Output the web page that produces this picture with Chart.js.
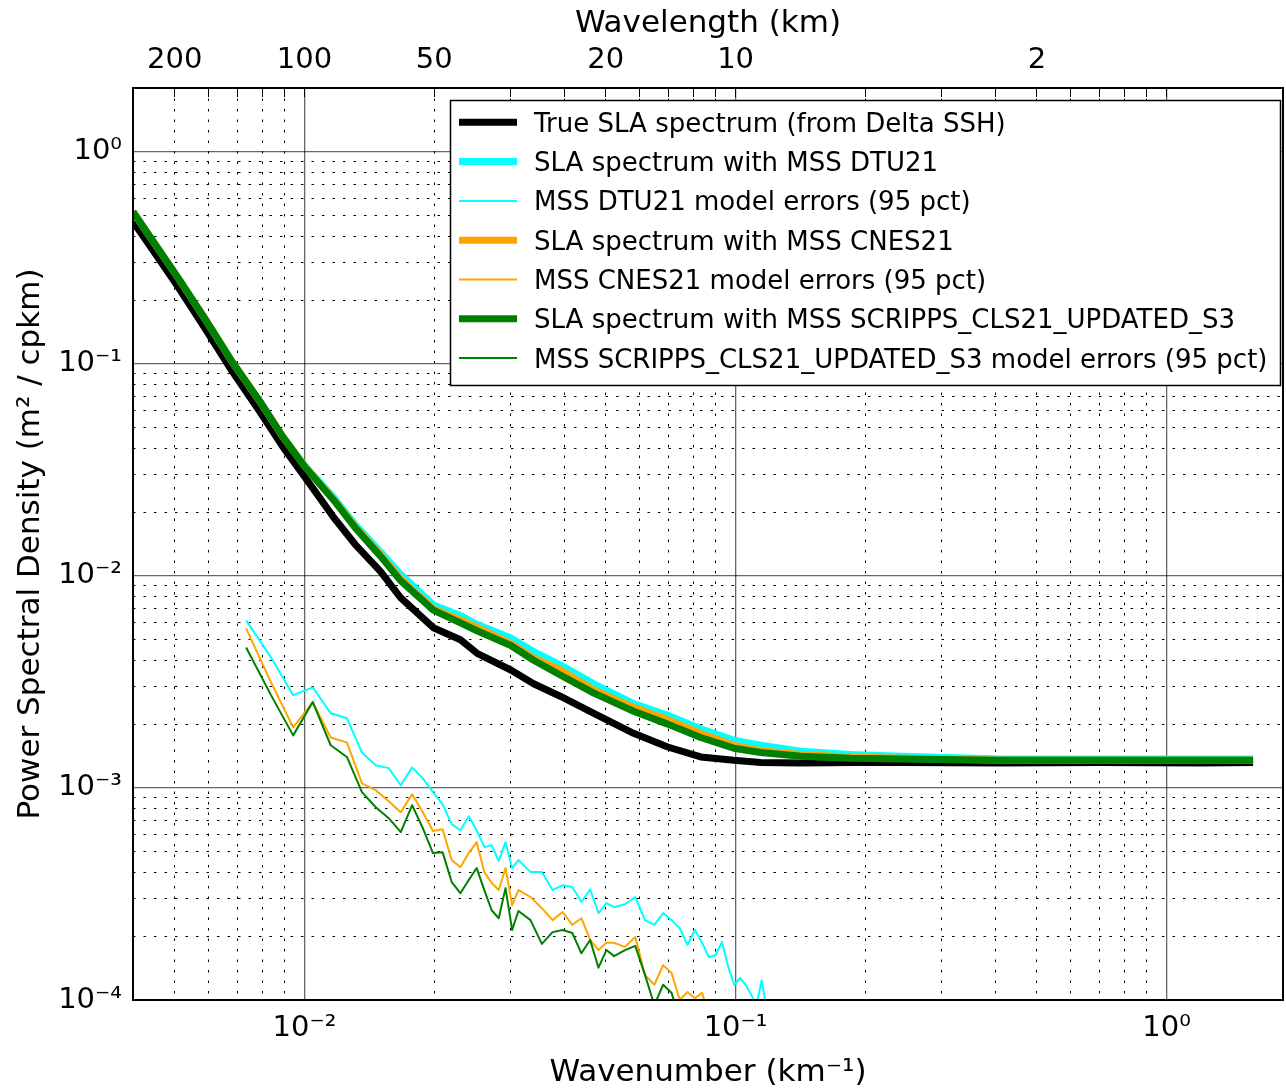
<!DOCTYPE html>
<html>
<head>
<meta charset="utf-8">
<script src="https://cdn.jsdelivr.net/npm/chart.js@4.4.1/dist/chart.umd.min.js"></script>
<style>
  html, body { margin: 0; padding: 0; background: #fff; }
  #wrap { width: 1286px; height: 1090px; }
</style>
</head>
<body>
<div id="wrap"><canvas id="psd" width="1286" height="1090"></canvas></div>
<script>
// ===============================
// DATA
// ===============================
// wavenumber (cpkm) of the SLA spectra
const wavenumber = [0.004, 0.0044, 0.0051, 0.0059, 0.0068, 0.0079, 0.0089, 0.01, 0.0117, 0.0131,
  0.015, 0.0167, 0.0199, 0.023, 0.0252, 0.0301, 0.034, 0.0393, 0.0469, 0.058,
  0.0696, 0.083, 0.099, 0.1144, 0.1417, 0.185, 0.2417, 0.4126, 0.7042, 1.2, 1.587];

const trueSLA = [0.468, 0.355, 0.229, 0.145, 0.092, 0.059, 0.0407, 0.0294, 0.0188, 0.0141,
  0.0105, 0.0079, 0.0057, 0.0050, 0.0043, 0.0036, 0.0031, 0.0027, 0.00225, 0.00181,
  0.00156, 0.00140, 0.00135, 0.00132, 0.00131, 0.00132, 0.00132, 0.00131, 0.00132, 0.00131, 0.00132];

const slaDTU21 = [0.522, 0.392, 0.253, 0.161, 0.102, 0.066, 0.0454, 0.0332, 0.0234, 0.0175,
  0.0130, 0.0102, 0.0073, 0.0065, 0.0059, 0.0051, 0.0044, 0.0038, 0.0031, 0.0025,
  0.0022, 0.0019, 0.00168, 0.00159, 0.00149, 0.00144, 0.00141, 0.00137, 0.00137, 0.00137, 0.00137];

const slaCNES21 = [0.522, 0.392, 0.253, 0.161, 0.102, 0.066, 0.0454, 0.0330, 0.0229, 0.0171,
  0.0126, 0.0097, 0.0070, 0.0062, 0.0057, 0.0048, 0.0041, 0.0036, 0.0029, 0.0024,
  0.0021, 0.00181, 0.00159, 0.00150, 0.00144, 0.00140, 0.00138, 0.00135, 0.00135, 0.00135, 0.00135];

const slaSCRIPPS = [0.522, 0.392, 0.253, 0.161, 0.102, 0.066, 0.0454, 0.0328, 0.0227, 0.0169,
  0.0124, 0.0095, 0.0069, 0.0060, 0.0055, 0.0047, 0.0040, 0.0034, 0.0028, 0.0023,
  0.0020, 0.00173, 0.00154, 0.00147, 0.00141, 0.00138, 0.00137, 0.00135, 0.00135, 0.00135, 0.00135];

// wavenumber (cpkm) of the model error curves
const errWavenumber = [0.00732, 0.00836, 0.00941, 0.01045, 0.0115, 0.01254, 0.01359, 0.01463, 0.01568, 0.01672,
  0.01777, 0.01881, 0.01986, 0.0209, 0.02195, 0.02299, 0.02404, 0.02508, 0.02613, 0.02717,
  0.02822, 0.02926, 0.03031, 0.03135, 0.03344, 0.03553, 0.03762, 0.03971, 0.0418, 0.04389,
  0.04598, 0.04807, 0.05016, 0.05225, 0.05539, 0.05852, 0.06166, 0.06479, 0.06793, 0.07106,
  0.0742, 0.07733, 0.08047, 0.0836, 0.08674, 0.08987, 0.09301, 0.09614, 0.09928, 0.10241,
  0.10555, 0.10868, 0.11182, 0.11495, 0.11809];

const errDTU21 = [0.00617, 0.00413, 0.00274, 0.00298, 0.00225, 0.00213, 0.00147, 0.00128, 0.00124, 0.00103,
  0.00125, 0.00111, 0.000955, 0.000838, 0.000675, 0.000632, 0.000736, 0.000632, 0.000526, 0.000537,
  0.000452, 0.000555, 0.000419, 0.000457, 0.000401, 0.000401, 0.000330, 0.000348, 0.000341, 0.000290,
  0.000333, 0.000257, 0.000286, 0.000274, 0.000283, 0.000306, 0.000238, 0.000226, 0.000257, 0.000238,
  0.000218, 0.000182, 0.000214, 0.000186, 0.000159, 0.000163, 0.000188, 0.000143, 0.000118, 0.000127,
  0.000118, 0.000106, 0.0000947, 0.000124, 0.00009];

const errCNES21 = [0.00566, 0.00315, 0.00193, 0.00254, 0.00173, 0.00164, 0.00105, 0.000976, 0.000866, 0.000769,
  0.000934, 0.000769, 0.000626, 0.000639, 0.000457, 0.000423, 0.000493, 0.000555, 0.000401, 0.000356,
  0.000330, 0.000419, 0.000280, 0.000330, 0.000306, 0.000271, 0.000238, 0.000260, 0.000226, 0.000243,
  0.000192, 0.000172, 0.000186, 0.000186, 0.000178, 0.000198, 0.000131, 0.000118, 0.000146, 0.000134,
  0.000100, 0.000109, 0.000102, 0.000108, 0.000085, 0.000072];

const errSCRIPPS = [0.00460, 0.00274, 0.00177, 0.00254, 0.00159, 0.00140, 0.000955, 0.000811, 0.000720, 0.000619,
  0.000829, 0.000646, 0.000493, 0.000498, 0.000360, 0.000319, 0.000368, 0.000419, 0.000330, 0.000265,
  0.000243, 0.000337, 0.000214, 0.000263, 0.000238, 0.000184, 0.000209, 0.000214, 0.000207, 0.000166,
  0.000192, 0.000142, 0.000172, 0.000161, 0.000172, 0.000180, 0.000131, 0.0000947, 0.000118, 0.000108,
  0.0000805];

// top axis labels (wavelength, km)
const topTickKm = [200, 100, 50, 20, 10, 2];

const xRange = [0.004, 1.862];
const yRange = [1e-4, 2];

// ===============================
// HELPERS
// ===============================
const FONT = "'DejaVu Sans', sans-serif";

function pairs(xs, ys) {
  return ys.map((y, i) => ({ x: xs[i], y: y }));
}

function logTicks(min, max) {
  const out = [];
  for (let e = Math.floor(Math.log10(min)); e <= Math.ceil(Math.log10(max)); e++) {
    for (let m = 1; m <= 9; m++) {
      const v = Number((m * Math.pow(10, e)).toPrecision(12));
      if (v >= min * 0.999999 && v <= max * 1.000001) out.push({ value: v, major: m === 1 });
    }
  }
  return out;
}

function sup(s) {
  return s.replace(/[-0-9]/g, c => "⁻⁰¹²³⁴⁵⁶⁷⁸⁹"["-0123456789".indexOf(c)]);
}

function powerLabel(v) {
  const e = Math.round(Math.log10(v));
  return Math.abs(v / Math.pow(10, e) - 1) < 1e-6 ? "10" + sup(String(e)) : "";
}

const gridOpts = {
  color: ctx => (ctx.tick && ctx.tick.major ? "rgba(0,0,0,0.6)" : "#000"),
  lineWidth: ctx => (ctx.tick && ctx.tick.major ? 1.3 : 1),
  drawTicks: false
};
const borderOpts = {
  display: false,
  dash: ctx => (ctx.tick && ctx.tick.major ? [] : [2.5, 8])
};

// ===============================
// DATASETS
// ===============================
const series = [
  { label: "True SLA spectrum (from Delta SSH)", xs: wavenumber, ys: trueSLA, color: "#000000", width: 7 },
  { label: "SLA spectrum with MSS DTU21", xs: wavenumber, ys: slaDTU21, color: "#00ffff", width: 7 },
  { label: "MSS DTU21 model errors (95 pct)", xs: errWavenumber, ys: errDTU21, color: "#00ffff", width: 2 },
  { label: "SLA spectrum with MSS CNES21", xs: wavenumber, ys: slaCNES21, color: "#ffa500", width: 7 },
  { label: "MSS CNES21 model errors (95 pct)", xs: errWavenumber, ys: errCNES21, color: "#ffa500", width: 2 },
  { label: "SLA spectrum with MSS SCRIPPS_CLS21_UPDATED_S3", xs: wavenumber, ys: slaSCRIPPS, color: "#008000", width: 7 },
  { label: "MSS SCRIPPS_CLS21_UPDATED_S3 model errors (95 pct)", xs: errWavenumber, ys: errSCRIPPS, color: "#008000", width: 2 }
];

const datasets = series.map((s, i) => ({
  label: s.label,
  data: pairs(s.xs, s.ys),
  borderColor: s.color,
  borderWidth: s.width,
  pointRadius: 0,
  tension: 0,
  borderJoinStyle: "round",
  clip: 0,
  order: series.length - i   // later series drawn on top
}));

// ===============================
// PLUGINS
// ===============================
const framePlugin = {
  id: "frame",
  afterDatasetsDraw(chart) {
    const { ctx, chartArea: a } = chart;
    ctx.save();
    ctx.strokeStyle = "#000";
    ctx.lineWidth = 2;
    ctx.strokeRect(a.left, a.top, a.right - a.left, a.bottom - a.top);
    ctx.restore();
  }
};

const legendPlugin = {
  id: "boxLegend",
  afterDraw(chart) {
    const ctx = chart.ctx;
    const box = { left: 450, top: 100, width: 830, height: 285 };
    ctx.save();
    ctx.fillStyle = "#fff";
    ctx.fillRect(box.left, box.top, box.width, box.height);
    ctx.strokeStyle = "#000";
    ctx.lineWidth = 1.5;
    ctx.strokeRect(box.left + 0.5, box.top + 0.5, box.width, box.height);
    ctx.font = "26px " + FONT;
    ctx.textBaseline = "alphabetic";
    ctx.fillStyle = "#000";
    chart.data.datasets.forEach((ds, i) => {
      const y = 122.3 + i * 39.3;
      ctx.beginPath();
      ctx.strokeStyle = ds.borderColor;
      ctx.lineWidth = ds.borderWidth;
      ctx.moveTo(459, y);
      ctx.lineTo(517, y);
      ctx.stroke();
      ctx.fillText(ds.label, 534, y + 9.5);
    });
    ctx.restore();
  }
};

// ===============================
// CHART
// ===============================
new Chart(document.getElementById("psd"), {
  type: "line",
  data: { datasets: datasets },
  options: {
    responsive: false,
    animation: false,
    devicePixelRatio: 1,
    layout: { padding: { left: 0, right: 3, top: 0, bottom: 0 } },
    plugins: { legend: { display: false }, tooltip: { enabled: false } },
    scales: {
      x: {
        type: "logarithmic",
        position: "bottom",
        min: xRange[0],
        max: xRange[1],
        afterBuildTicks: axis => { axis.ticks = logTicks(xRange[0], xRange[1]); },
        afterFit: axis => { axis.height = 90; },
        grid: gridOpts,
        border: borderOpts,
        ticks: {
          autoSkip: false, maxRotation: 0, padding: 11,
          color: "#000", font: { family: FONT, size: 29 },
          callback: v => powerLabel(v)
        },
        title: {
          display: true, text: "Wavenumber (km⁻¹)", color: "#000",
          font: { family: FONT, size: 31 }, padding: { top: 0, bottom: -2 }
        }
      },
      x2: {
        type: "logarithmic",
        position: "top",
        min: xRange[0],
        max: xRange[1],
        afterBuildTicks: axis => { axis.ticks = logTicks(xRange[0], xRange[1]); },
        afterFit: axis => { axis.height = 88; },
        grid: { drawOnChartArea: false, drawTicks: true, tickLength: -9, tickColor: "#000", tickWidth: 1 },
        border: { display: false },
        ticks: {
          autoSkip: false, maxRotation: 0, padding: 19,
          color: "#000", font: { family: FONT, size: 29 },
          callback: v => {
            const km = topTickKm.find(k => Math.abs(1 / k / v - 1) < 1e-6);
            return km ? String(km) : "";
          }
        },
        title: {
          display: true, text: "Wavelength (km)", color: "#000",
          font: { family: FONT, size: 31 }, padding: { top: 5, bottom: 0 }
        }
      },
      y: {
        type: "logarithmic",
        position: "left",
        min: yRange[0],
        max: yRange[1],
        afterBuildTicks: axis => { axis.ticks = logTicks(yRange[0], yRange[1]); },
        afterFit: axis => { axis.width = 133; },
        grid: gridOpts,
        border: borderOpts,
        ticks: {
          autoSkip: false, padding: 11,
          color: "#000", font: { family: FONT, size: 29 },
          callback: v => powerLabel(v)
        },
        title: {
          display: true, text: "Power Spectral Density (m² / cpkm)", color: "#000",
          font: { family: FONT, size: 31 }, padding: { top: 12, bottom: 0 }
        }
      }
    }
  },
  plugins: [framePlugin, legendPlugin]
});
</script>
</body>
</html>
